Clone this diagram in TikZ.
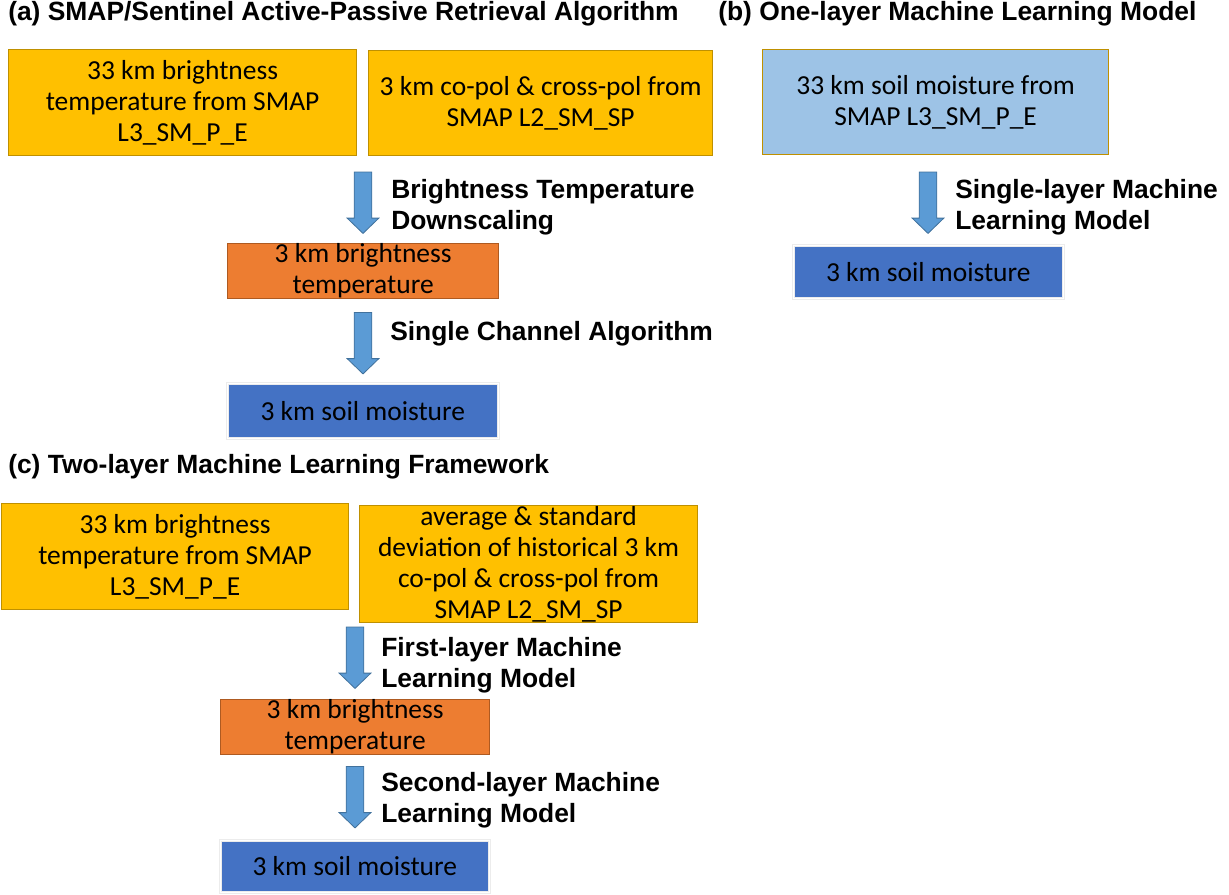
\documentclass[tikz,border=0pt]{standalone}
\usepackage{fontspec}
\setmainfont{Carlito}
\newfontfamily\arialfont{Liberation Sans}
\usetikzlibrary{shapes.arrows}
\definecolor{cyellow}{HTML}{FFC000}
\definecolor{cyellowb}{HTML}{BF9000}
\definecolor{corange}{HTML}{ED7D31}
\definecolor{corangeb}{HTML}{AE5A21}
\definecolor{cblue}{HTML}{4472C4}
\definecolor{clblue}{HTML}{9DC3E6}
\definecolor{carrow}{HTML}{5B9BD5}
\definecolor{carrowb}{HTML}{41719C}
\tikzset{
  box/.style={anchor=north west, inner sep=0pt, align=center,
    font=\fontsize{20.6}{23.3}\selectfont, text=black, line width=0.9pt},
  ybox/.style={box, fill=cyellow, draw=cyellowb},
  obox/.style={box, fill=corange, draw=corangeb},
  lbbox/.style={box, fill=clblue, draw=cyellowb},
  bbox/.style={box, fill=cblue, draw=white!85!gray, double=white, double distance=1pt, line width=0.5pt},
  sz/.style n args={4}{minimum width={(#3-#1)*0.75pt}, minimum height={(#4-#2)*0.75pt}},
  blockarrow/.style={single arrow, rotate=-90, fill=carrow, draw=carrowb, line width=0.6pt,
    inner xsep=0pt, inner ysep=6.3pt, single arrow head extend=5.3pt, single arrow tip angle=92,
    minimum height=46pt},
  lab/.style={anchor=west, align=left, inner sep=0pt,
    font=\arialfont\bfseries\fontsize{19.8}{23.3}\selectfont},
  ttl/.style={anchor=base west, inner sep=0pt,
    font=\arialfont\bfseries\fontsize{19.8}{21}\selectfont},
}
\begin{document}
\begin{tikzpicture}[x=0.75pt,y=-0.75pt]
\useasboundingbox (0,0) rectangle (1229,894);
% (a)
\node[ttl] (ta) at (8,20.5) {(a) SMAP/Sentinel Active-Passive Retrieval Algorithm};
\node[ybox, sz={8}{49}{356}{155}] (a1) at (8,49) {33 km brightness\\temperature from SMAP\\L3\_SM\_P\_E};
\node[ybox, sz={368}{50}{712}{155}] (a2) at (368,50) {3 km co-pol \& cross-pol from\\SMAP L2\_SM\_SP};
\node[blockarrow] (aa1) at (363,198.5) {};
\node[lab] (la1) at (391,207) {Brightness Temperature\\Downscaling};
\node[obox, sz={227}{243}{498}{298}] (a3) at (227,243) {3 km brightness\\temperature};
\node[blockarrow] (aa2) at (363,339) {};
\node[lab] (la2) at (390,334) {Single Channel Algorithm};
\node[bbox, sz={227}{383}{498}{438}] (a4) at (227,383) {3 km soil moisture};
% (b)
\node[ttl] (tb) at (718,20.5) {(b) One-layer Machine Learning Model};
\node[lbbox, sz={762}{49}{1108}{154}] (b1) at (762,49) {33 km soil moisture from\\SMAP L3\_SM\_P\_E};
\node[blockarrow] (ba1) at (928,198.5) {};
\node[lab] (lb1) at (955,207) {Single-layer Machine\\Learning Model};
\node[bbox, sz={793}{245}{1063}{298}] (b2) at (793,245) {3 km soil moisture};
% (c)
\node[ttl] (tc) at (8,473) {(c) Two-layer Machine Learning Framework};
\node[ybox, sz={1}{503}{348}{609}] (c1) at (1,503) {33 km brightness\\temperature from SMAP\\L3\_SM\_P\_E};
\node[ybox, sz={359}{505}{697}{622}] (c2) at (359,505) {average \& standard\\deviation of historical 3 km\\co-pol \& cross-pol from\\SMAP L2\_SM\_SP};
\node[blockarrow] (ca1) at (355,653.5) {};
\node[lab] (lc1) at (381,665) {First-layer Machine\\Learning Model};
\node[obox, sz={220}{699}{489}{752}] (c3) at (220,699) {3 km brightness\\temperature};
\node[blockarrow] (ca2) at (355,793) {};
\node[lab] (lc2) at (381,800) {Second-layer Machine\\Learning Model};
\node[bbox, sz={220}{840}{489}{892}] (c4) at (220,840) {3 km soil moisture};
\end{tikzpicture}
\end{document}
